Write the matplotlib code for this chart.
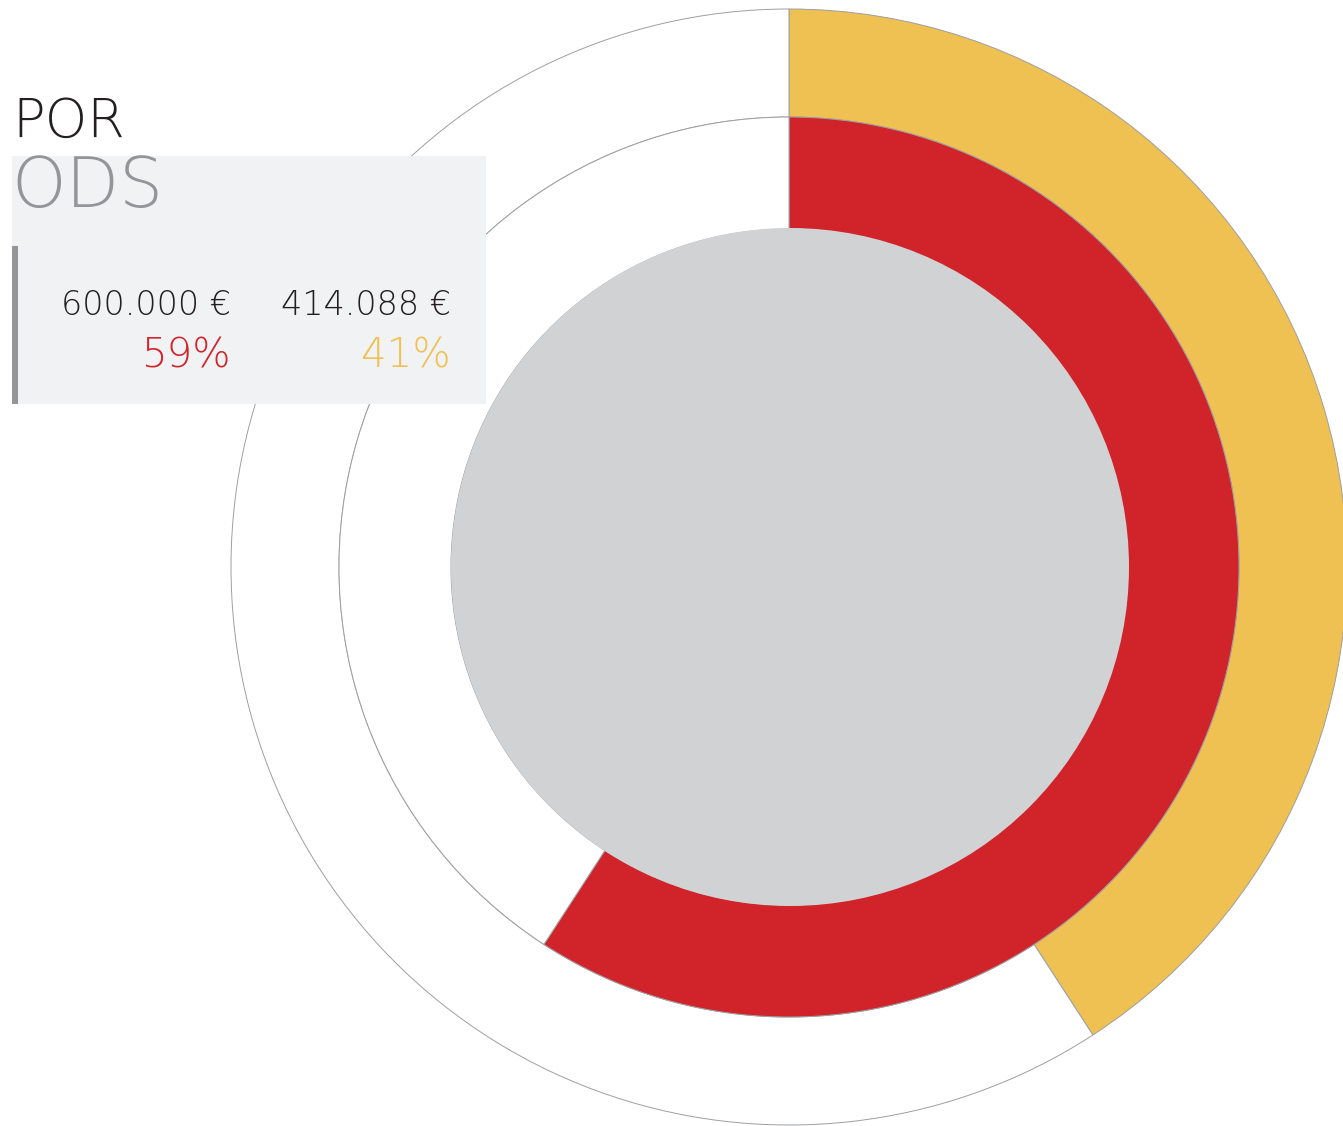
import matplotlib
matplotlib.use("Agg")
import matplotlib.pyplot as plt
from matplotlib.patches import Circle, Rectangle

# data
labels = ["ODS A", "ODS B"]
amounts = [600000, 414088]
amount_txt = ["600.000 €", "414.088 €"]
pct_txt = ["59%", "41%"]

RED = "#d0232a"
YELLOW = "#efc052"
GREY = "#d1d2d4"
EDGE = "#9d9fa2"

W, H = 1343, 1126
fig = plt.figure(figsize=(W / 100, H / 100), dpi=100)
ax = fig.add_axes([0, 0, 1, 1])

def py(y):
    # pixel row -> data y
    return H - y

cx, cy = 789, py(567)

# outer ring: yellow share, rest empty
ax.pie([amounts[1], amounts[0]], colors=[YELLOW, "white"], radius=558,
       center=(cx, cy), startangle=90, counterclock=False,
       wedgeprops=dict(width=108, edgecolor=EDGE, linewidth=0.7))
# middle ring: red share, rest empty
ax.pie([amounts[0], amounts[1]], colors=[RED, "white"], radius=450,
       center=(cx, cy), startangle=90, counterclock=False,
       wedgeprops=dict(width=112, edgecolor=EDGE, linewidth=0.7))
ax.add_patch(Circle((cx + 1, cy), 339, facecolor=GREY, edgecolor="none", zorder=3))

ax.set_xlim(0, W)
ax.set_ylim(0, H)
ax.set_aspect("equal")
ax.axis("off")

# info box
ax.add_patch(Rectangle((12, py(404)), 474, 248, facecolor="#f1f2f3",
                       edgecolor="none", zorder=5))
ax.add_patch(Rectangle((12, py(404)), 6, 158, facecolor="#939598",
                       edgecolor="none", zorder=6))

fam = ["DejaVu Sans"]
ax.text(12, py(137), "POR", fontsize=39, color="#231f20", family=fam,
        fontweight=200, va="baseline", ha="left", zorder=7)
ax.text(11, py(207), "ODS", fontsize=50, color="#939598", family=fam,
        fontweight=200, va="baseline", ha="left", zorder=7)

xs = [231, 451]
cols = [RED, YELLOW]
for x, a, p, c in zip(xs, amount_txt, pct_txt, cols):
    ax.text(x, py(315), a, fontsize=24, color="#231f20", family=fam,
            fontweight=200, va="baseline", ha="right", zorder=7)
    ax.text(x, py(367), p, fontsize=29, color=c, family=fam,
            fontweight=200, va="baseline", ha="right", zorder=7)

fig.savefig("out.png", dpi=100)
